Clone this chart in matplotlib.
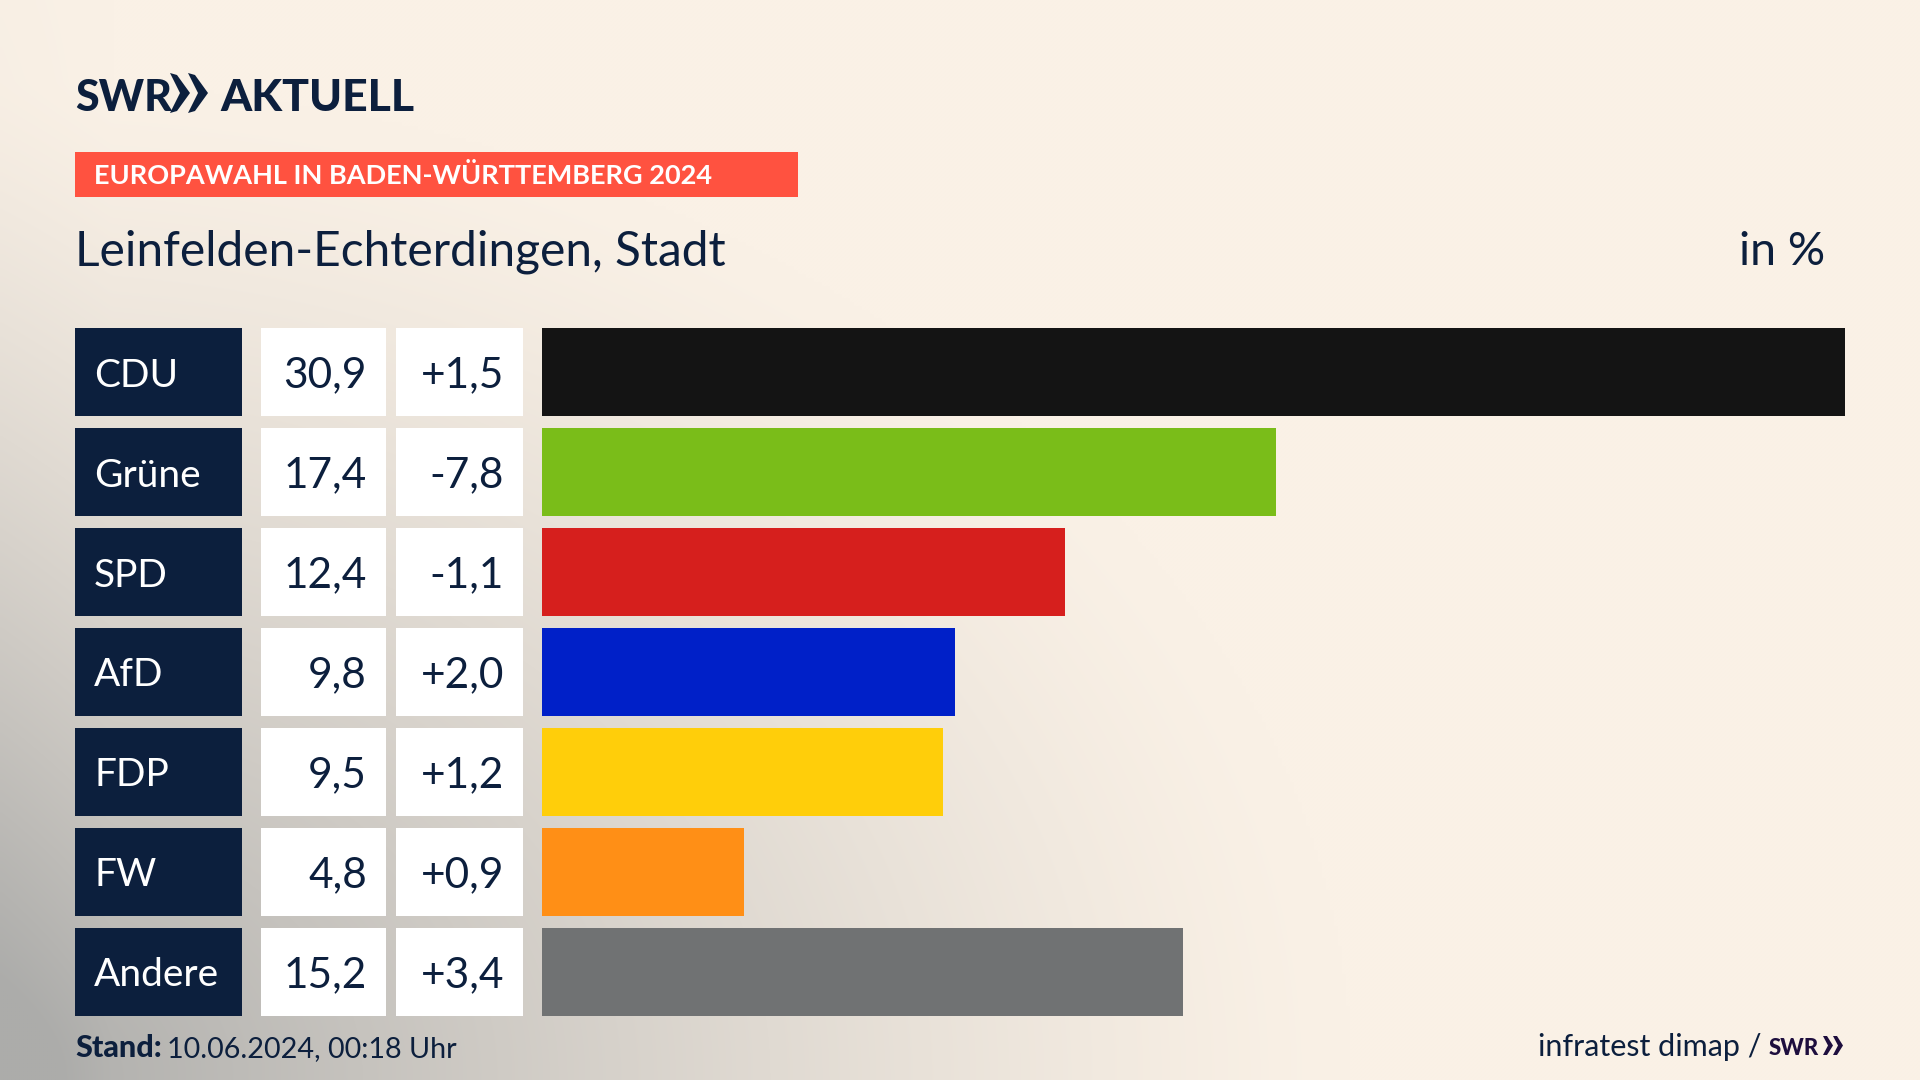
import numpy as np
import matplotlib
matplotlib.use("Agg")
import matplotlib.pyplot as plt
from matplotlib.patches import Polygon, Rectangle

parties = ["CDU", "Grüne", "SPD", "AfD", "FDP", "FW", "Andere"]
shares = [30.9, 17.4, 12.4, 9.8, 9.5, 4.8, 15.2]
changes = ["+1,5", "-7,8", "-1,1", "+2,0", "+1,2", "+0,9", "+3,4"]
colors = ["#141414", "#7ABD19", "#D61F1D", "#0020C8", "#FFCE0A", "#FF8F16", "#707273"]

NAVY = "#0C1F3D"
PURPLE = "#1E0E3E"
W, H = 1920, 1080
plt.rcParams["font.family"] = ["Lato", "DejaVu Sans"]


def px_axes(fig, x0, y0, x1, y1):
    return fig.add_axes([x0 / W, 1 - y1 / H, (x1 - x0) / W, (y1 - y0) / H])


fig = plt.figure(figsize=(19.2, 10.8), dpi=100)

# background: cream with a grey shadow from the lower left corner
bg = px_axes(fig, 0, 0, W, H)
yy, xx = np.mgrid[0:H:270j, 0:W:480j]
dist = np.sqrt((xx / 1350) ** 2 + ((H - yy) / 1000) ** 2)
shade = np.clip(1 - dist, 0, 1) ** 1.3
edge = np.clip(1 - xx / 110, 0, 1) * 0.12 * np.clip(yy / H + 0.2, 0, 1)
shade = np.clip(shade + edge, 0, 1)[..., None]
cream = np.array([250, 241, 230]) / 255
grey = np.array([172, 172, 170]) / 255
bg.imshow(cream * (1 - shade) + grey * shade, extent=(0, W, H, 0), aspect="auto",
          interpolation="bilinear")
bg.set_xlim(0, W)
bg.set_ylim(H, 0)
bg.axis("off")

# header and footer, in pixels
bg.text(75, 111, "SWR", fontsize=31, fontweight="black", color=NAVY, va="baseline")
for x in (170, 188):
    bg.add_patch(Polygon([(x, 73), (x + 7, 75), (x + 20, 93), (x + 7, 111), (x, 113), (x + 10, 93)],
                         color=NAVY, lw=0))
bg.text(220, 111, "AKTUELL", fontsize=32, fontweight="black", color=NAVY, va="baseline")

bg.add_patch(Rectangle((75, 152), 723, 45, color="#FF5240", lw=0))
bg.text(94, 184, "EUROPAWAHL IN BADEN-WÜRTTEMBERG 2024", fontsize=19.5, fontweight="bold",
        color="white", va="baseline")
bg.text(75, 265, "Leinfelden-Echterdingen, Stadt", fontsize=34.5, color=NAVY, va="baseline")
bg.text(1825, 265, "in %", fontsize=33.5, color=NAVY, ha="right", va="baseline")

bg.text(75, 1057, "Stand:", fontsize=22, fontweight="black", color=NAVY, va="baseline")
bg.text(167, 1057, "10.06.2024, 00:18 Uhr", fontsize=20.7, color=NAVY, va="baseline")
bg.text(1761, 1056, "infratest dimap /", fontsize=22, color=NAVY, ha="right", va="baseline")
bg.text(1769, 1055, "SWR", fontsize=16, fontweight="black", color=PURPLE, va="baseline")
for x in (1823, 1833):
    bg.add_patch(Polygon([(x, 1036), (x + 4, 1036), (x + 10, 1045.5), (x + 4, 1055), (x, 1055), (x + 5, 1045.5)],
                         color=PURPLE, lw=0))

rows = np.arange(len(parties))

# name and value boxes, x axis in pixels
table = px_axes(fig, 75, 328, 523, 1016)
table.set_xlim(75, 523)
table.set_ylim(6.44, -0.44)
table.axis("off")
table.barh(rows, 167, left=75, height=0.88, color=NAVY)
table.barh(rows, 125, left=261, height=0.88, color="white")
table.barh(rows, 127, left=396, height=0.88, color="white")
for y, name, share, change in zip(rows, parties, shares, changes):
    table.text(94, y, name, fontsize=28, color="white", va="center_baseline")
    table.text(367, y, f"{share:.1f}".replace(".", ","), fontsize=30.5, color=NAVY,
               ha="right", va="center_baseline")
    table.text(504, y, change, fontsize=30.5, color=NAVY, ha="right", va="center_baseline")

# result bars
bars = px_axes(fig, 542, 328, 1845, 1016)
bars.barh(rows, shares, height=0.88, color=colors)
bars.set_xlim(0, 30.9)
bars.set_ylim(6.44, -0.44)
bars.axis("off")

fig.savefig("out.png", dpi=100)
